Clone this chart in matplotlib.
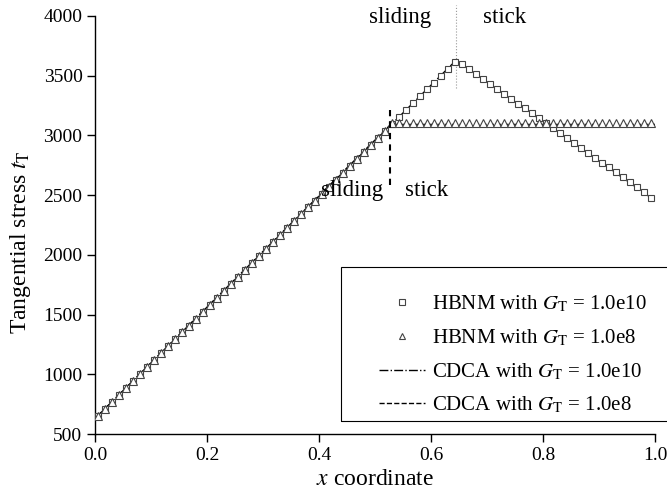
import numpy as np
import matplotlib.pyplot as plt
from matplotlib.patches import Rectangle

plt.rcParams['font.family'] = ['Liberation Serif', 'DejaVu Serif']
plt.rcParams['mathtext.fontset'] = 'stix'

# node positions (x coordinate) of the HBNM results
x_nodes = [0.005, 0.0175, 0.03, 0.0425, 0.055, 0.0675, 0.08, 0.0925, 0.105, 0.1175,
           0.13, 0.1425, 0.155, 0.1675, 0.18, 0.1925, 0.205, 0.2175, 0.23, 0.2425,
           0.255, 0.2675, 0.28, 0.2925, 0.305, 0.3175, 0.33, 0.3425, 0.355, 0.3675,
           0.38, 0.3925, 0.405, 0.4175, 0.43, 0.4425, 0.455, 0.4675, 0.48, 0.4925,
           0.505, 0.5175, 0.53, 0.5425, 0.555, 0.5675, 0.58, 0.5925, 0.605, 0.6175,
           0.63, 0.6425, 0.655, 0.6675, 0.68, 0.6925, 0.705, 0.7175, 0.73, 0.7425,
           0.755, 0.7675, 0.78, 0.7925, 0.805, 0.8175, 0.83, 0.8425, 0.855, 0.8675,
           0.88, 0.8925, 0.905, 0.9175, 0.93, 0.9425, 0.955, 0.9675, 0.98, 0.9925]

# HBNM, G_T = 1.0e10
hbnm_e10 = [653, 711, 770, 828, 886, 944, 1002, 1060, 1118, 1176,
            1235, 1293, 1351, 1409, 1467, 1525, 1583, 1641, 1700, 1758,
            1816, 1874, 1932, 1990, 2048, 2106, 2165, 2223, 2281, 2339,
            2397, 2455, 2513, 2571, 2630, 2688, 2746, 2804, 2862, 2920,
            2978, 3036, 3094, 3153, 3211, 3269, 3327, 3385, 3443, 3501,
            3560, 3618, 3597, 3556, 3515, 3474, 3433, 3391, 3350, 3309,
            3267, 3226, 3185, 3144, 3103, 3061, 3020, 2979, 2938, 2897,
            2855, 2814, 2773, 2732, 2691, 2649, 2608, 2567, 2526, 2480]

# HBNM, G_T = 1.0e8
hbnm_e8 = [653, 711, 770, 828, 886, 944, 1002, 1060, 1118, 1176,
           1235, 1293, 1351, 1409, 1467, 1525, 1583, 1641, 1700, 1758,
           1816, 1874, 1932, 1990, 2048, 2106, 2165, 2223, 2281, 2339,
           2397, 2455, 2513, 2571, 2630, 2688, 2746, 2804, 2862, 2920,
           2978, 3036, 3100, 3108, 3108, 3108, 3108, 3108, 3108, 3108,
           3108, 3108, 3108, 3108, 3108, 3108, 3108, 3108, 3108, 3108,
           3108, 3108, 3108, 3108, 3108, 3108, 3108, 3108, 3108, 3108,
           3108, 3108, 3108, 3108, 3108, 3108, 3108, 3108, 3108, 3108]

# CDCA (piecewise linear)
cdca_e10_x = [0.0, 0.645, 1.0]
cdca_e10_y = [630, 3630, 2455]
cdca_e8_x = [0.0, 0.528, 1.0]
cdca_e8_y = [630, 3092, 3092]

fig = plt.figure(figsize=(6.67, 4.99), dpi=100)
ax = fig.add_axes([0.1424, 0.130, 0.8396, 0.838])

ax.plot(x_nodes, hbnm_e10, linestyle='none', marker='s', markersize=5,
        markerfacecolor='white', markeredgecolor='#444444', markeredgewidth=0.8,
        label=r'HBNM with $G_{\mathrm{T}}$ = 1.0e10', zorder=3)
ax.plot(x_nodes, hbnm_e8, linestyle='none', marker='^', markersize=5.5,
        markerfacecolor='white', markeredgecolor='#444444', markeredgewidth=0.8,
        label=r'HBNM with $G_{\mathrm{T}}$ = 1.0e8', zorder=3)
ax.plot(cdca_e10_x, cdca_e10_y, color='black', linestyle='-.', linewidth=1.0,
        label=r'CDCA with $G_{\mathrm{T}}$ = 1.0e10', zorder=2)
ax.plot(cdca_e8_x, cdca_e8_y, color='black', linestyle='--', linewidth=1.0,
        label=r'CDCA with $G_{\mathrm{T}}$ = 1.0e8', zorder=2)

# sliding / stick separators
ax.plot([0.527, 0.527], [2585, 3230], color='black', linestyle=(0, (3, 2.5)),
        linewidth=1.5, zorder=4)
ax.plot([0.645, 0.645], [3400, 4090], color='#999999', linestyle=':',
        linewidth=0.8, clip_on=False, zorder=1)

ax.text(0.545, 3985, 'sliding', fontsize=16.5, ha='center', va='center')
ax.text(0.732, 3985, 'stick', fontsize=16.5, ha='center', va='center')
ax.text(0.459, 2543, 'sliding', fontsize=16.5, ha='center', va='center')
ax.text(0.593, 2543, 'stick', fontsize=16.5, ha='center', va='center')

ax.set_xlim(0.0, 1.0)
ax.set_ylim(500, 4000)
ax.set_xticks([0.0, 0.2, 0.4, 0.6, 0.8, 1.0])
ax.set_xticklabels(['0.0', '0.2', '0.4', '0.6', '0.8', '1.0'])
ax.set_yticks([500, 1000, 1500, 2000, 2500, 3000, 3500, 4000])
ax.tick_params(direction='out', length=5.5, width=1.0, labelsize=14)
ax.spines['top'].set_visible(False)
ax.spines['right'].set_visible(False)
ax.spines['left'].set_linewidth(1.0)
ax.spines['bottom'].set_linewidth(1.0)

ax.set_xlabel(r'$x$ coordinate', fontsize=17, labelpad=4)
ax.set_ylabel(r'Tangential stress $t_{\mathrm{T}}$', fontsize=17)
ax.yaxis.set_label_coords(-0.11, 0.46)

# legend box (runs off the right edge of the figure)
ax.add_patch(Rectangle((0.439, 0.031), 0.6, 0.369, transform=ax.transAxes,
                       fill=False, edgecolor='black', linewidth=0.8,
                       clip_on=False, zorder=5))
leg = ax.legend(loc='upper left', bbox_to_anchor=(0.507, 0.335), fontsize=15,
                frameon=False, handlelength=2.2, handletextpad=0.33,
                borderpad=0.0, borderaxespad=0.0, labelspacing=0.62,
                markerscale=0.75)

plt.savefig('out.png', dpi=100)
